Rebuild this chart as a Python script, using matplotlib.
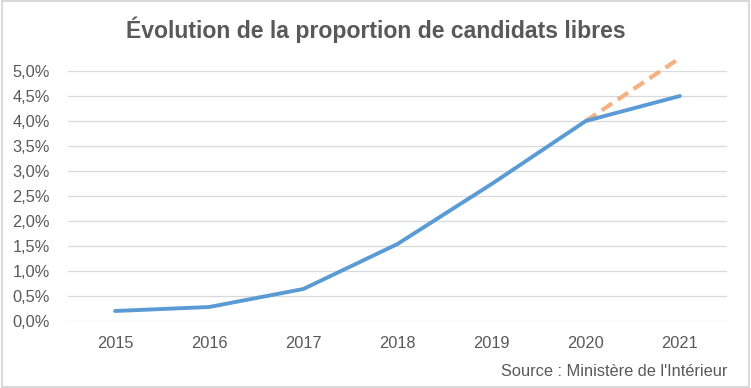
import matplotlib
matplotlib.use("Agg")
import matplotlib.pyplot as plt
from matplotlib.patches import Rectangle
from matplotlib.ticker import FuncFormatter

plt.rcParams['font.family'] = ['Liberation Sans', 'DejaVu Sans']

years = ['2015', '2016', '2017', '2018', '2019', '2020', '2021']
proportion = [0.20, 0.28, 0.64, 1.54, 2.74, 4.00, 4.50]
# dashed projection from 2020 to 2021
proj_values = [4.00, 5.26]

grey = '#595959'
fig = plt.figure(figsize=(7.51, 3.88), dpi=100)
ax = fig.add_axes([68 / 751, 1 - 321 / 388, (727 - 68) / 751, 250 / 388])

x = list(range(len(years)))
ax.plot(x[-2:], proj_values, color='#F4B183', lw=3, ls=(0, (3, 1.6)), zorder=3,
        clip_on=False)
ax.plot(x, proportion, color='#5B9BD5', lw=2.8, solid_capstyle='round', zorder=4,
        clip_on=False)

ax.set_xlim(-0.5, len(years) - 0.5)
ax.set_ylim(0, 5.0)
ax.set_yticks([i * 0.5 for i in range(11)])
ax.yaxis.set_major_formatter(FuncFormatter(lambda v, p: f"{v:.1f}%".replace('.', ',')))
ax.set_xticks(x)
ax.set_xticklabels(years)
ax.grid(axis='y', color='#d9d9d9', lw=0.9)
ax.set_axisbelow(True)
for s in ax.spines.values():
    s.set_visible(False)
ax.tick_params(length=0, labelsize=11.8, labelcolor=grey)
ax.tick_params(axis='x', pad=11)
ax.tick_params(axis='y', pad=13)

fig.text(0.5, 1 - 30 / 388, "Évolution de la proportion de candidats libres",
         ha='center', va='center', fontsize=16.6, fontweight='bold', color=grey)
fig.text(727 / 751, 1 - 371 / 388, "Source : Ministère de l'Intérieur",
         ha='right', va='center', fontsize=11.8, color=grey)

fig.patches.append(Rectangle((0.002, 0.003), 0.995, 0.994, transform=fig.transFigure,
                             fill=False, edgecolor='#d9d9d9', lw=1.5))

fig.savefig('out.png', dpi=100)
